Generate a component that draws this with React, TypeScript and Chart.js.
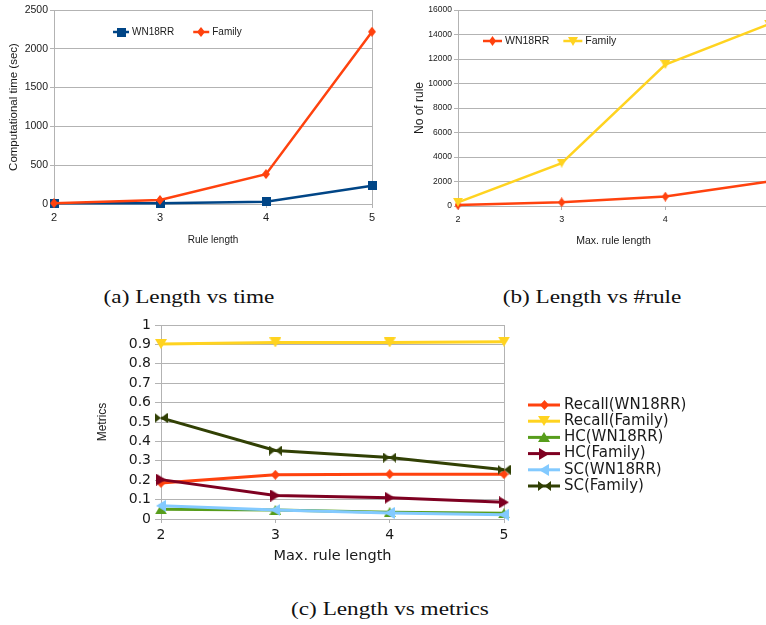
import React, { useEffect, useRef } from 'react';
import { Chart, registerables } from 'chart.js';
Chart.register(...registerables);

// ---------- data ----------
const lengthA = ['2', '3', '4', '5'];
const timeWN18RR = [9, 9, 30, 236];
const timeFamily = [10, 52, 385, 2220];

const lengthB = ['2', '3', '4', '5'];
const rulesWN18RR = [80, 300, 770, 2000];
const rulesFamily = [300, 3500, 11550, 14850];

const lengthC = ['2', '3', '4', '5'];
const recallWN18RR = [0.186, 0.228, 0.231, 0.231];
const recallFamily = [0.902, 0.91, 0.91, 0.914];
const hcWN18RR = [0.05, 0.046, 0.035, 0.029];
const hcFamily = [0.203, 0.121, 0.11, 0.086];
const scWN18RR = [0.068, 0.047, 0.031, 0.022];
const scFamily = [0.521, 0.353, 0.317, 0.254];

const captionA = '(a) Length vs time';
const captionB = '(b) Length vs #rule';
const captionC = '(c) Length vs metrics';

// ---------- styles ----------
const gridGray = '#b3b3b3';
const textColor = '#1a1a1a';
const SANS = "'Liberation Sans', sans-serif";
const DEJAVU = "'DejaVu Sans', sans-serif";

function marker(shape: string, color: string, w: number, h: number) {
  const c = document.createElement('canvas');
  c.width = w;
  c.height = h;
  const g = c.getContext('2d')!;
  g.fillStyle = color;
  g.beginPath();
  switch (shape) {
    case 'square':
      g.rect(0, 0, w, h);
      break;
    case 'diamond':
      g.moveTo(w / 2, 0); g.lineTo(w, h / 2); g.lineTo(w / 2, h); g.lineTo(0, h / 2); g.closePath();
      break;
    case 'down':
      g.moveTo(0, 0); g.lineTo(w, 0); g.lineTo(w / 2, h); g.closePath();
      break;
    case 'up':
      g.moveTo(w / 2, 0); g.lineTo(w, h); g.lineTo(0, h); g.closePath();
      break;
    case 'right':
      g.moveTo(0, 0); g.lineTo(w, h / 2); g.lineTo(0, h); g.closePath();
      break;
    case 'left':
      g.moveTo(w, 0); g.lineTo(0, h / 2); g.lineTo(w, h); g.closePath();
      break;
    case 'bowtie':
      g.moveTo(0, 0); g.lineTo(w / 2, h / 2); g.lineTo(0, h); g.closePath();
      g.moveTo(w, 0); g.lineTo(w / 2, h / 2); g.lineTo(w, h); g.closePath();
      break;
  }
  g.fill();
  return c;
}

const lineLegend = {
  id: 'lineLegend',
  afterDraw(chart: any, _args: any, opts: any) {
    if (!opts || !opts.display) return;
    const ctx = chart.ctx;
    ctx.save();
    ctx.font = opts.font;
    ctx.textBaseline = 'middle';
    ctx.textAlign = 'left';
    let x = opts.x;
    let y = opts.y;
    chart.data.datasets.forEach((ds: any) => {
      ctx.strokeStyle = ds.borderColor;
      ctx.lineWidth = ds.borderWidth;
      ctx.beginPath();
      ctx.moveTo(x, y);
      ctx.lineTo(x + opts.lineLength, y);
      ctx.stroke();
      const img = ds.pointStyle;
      ctx.drawImage(img, Math.round(x + opts.lineLength / 2 - img.width / 2), Math.round(y - img.height / 2));
      ctx.fillStyle = opts.color;
      const tx = x + opts.lineLength + opts.textGap;
      ctx.fillText(ds.label, tx, y);
      if (opts.direction === 'row') {
        x = tx + ctx.measureText(ds.label).width + opts.itemGap;
      } else {
        y += opts.rowHeight;
      }
    });
    ctx.restore();
  },
};

function ds(label: string, data: number[], color: string, img: HTMLCanvasElement, width: number, order: number) {
  return {
    label,
    data,
    borderColor: color,
    backgroundColor: color,
    borderWidth: width,
    pointStyle: img,
    pointRadius: 4,
    pointHoverRadius: 4,
    tension: 0,
    clip: false,
    order,
  };
}

function edgeGrid(ctx: any) {
  const n = ctx.chart.data.labels.length;
  return ctx.index === 0 || ctx.index === n - 1 ? gridGray : 'rgba(0,0,0,0)';
}

function configA() {
  return {
    type: 'line',
    data: {
      labels: lengthA,
      datasets: [
        ds('WN18RR', timeWN18RR, '#004586', marker('square', '#004586', 9, 9), 2.5, 2),
        ds('Family', timeFamily, '#ff420e', marker('diamond', '#ff420e', 8, 10), 2.5, 1),
      ],
    },
    plugins: [lineLegend],
    options: {
      responsive: false,
      animation: false,
      devicePixelRatio: 1,
      layout: { padding: { left: 0, right: 18, top: 10, bottom: 0 } },
      plugins: {
        legend: { display: false },
        tooltip: { enabled: false },
        lineLegend: { display: true, x: 113, y: 32, lineLength: 16, textGap: 3, itemGap: 19, direction: 'row', font: `10px ${SANS}`, color: textColor },
      },
      scales: {
        x: {
          offset: false,
          grid: { color: edgeGrid, tickColor: gridGray, tickLength: 4, drawTicks: true },
          border: { display: true, color: gridGray },
          ticks: { font: { family: SANS, size: 11 }, color: textColor, padding: 3, maxRotation: 0, autoSkip: false },
          title: { display: true, text: 'Rule length', font: { family: SANS, size: 10 }, color: textColor, padding: { top: 0, bottom: 4 } },
          afterFit: (s: any) => { s.height = 46; },
        },
        y: {
          min: 0,
          max: 2500,
          ticks: { stepSize: 500, autoSkip: false, font: { family: SANS, size: 10.5 }, color: textColor, padding: 2, callback: (v: any) => String(v) },
          grid: { color: gridGray, tickColor: gridGray, tickLength: 4 },
          border: { display: true, color: gridGray },
          title: { display: true, text: 'Computational time (sec)', font: { family: SANS, size: 11.5 }, color: textColor, padding: { top: 7, bottom: 0 } },
          afterFit: (s: any) => { s.width = 54; },
        },
      },
    },
  };
}

function configB() {
  return {
    type: 'line',
    data: {
      labels: lengthB,
      datasets: [
        ds('WN18RR', rulesWN18RR, '#ff420e', marker('diamond', '#ff420e', 7, 10), 2.5, 2),
        ds('Family', rulesFamily, '#ffd320', marker('down', '#ffd320', 10, 9), 2.5, 1),
      ],
    },
    plugins: [lineLegend],
    options: {
      responsive: false,
      animation: false,
      devicePixelRatio: 1,
      layout: { padding: { left: 0, right: 21, top: 10, bottom: 0 } },
      plugins: {
        legend: { display: false },
        tooltip: { enabled: false },
        lineLegend: { display: true, x: 93, y: 41, lineLength: 19, textGap: 3, itemGap: 14, direction: 'row', font: `10.5px ${SANS}`, color: textColor },
      },
      scales: {
        x: {
          offset: false,
          grid: { color: edgeGrid, tickColor: gridGray, tickLength: 4, drawTicks: true },
          border: { display: true, color: gridGray },
          ticks: { font: { family: SANS, size: 9 }, color: textColor, padding: 4, maxRotation: 0, autoSkip: false },
          title: { display: true, text: 'Max. rule length', font: { family: SANS, size: 10.5 }, color: textColor, padding: { top: 0, bottom: 3 } },
          afterFit: (s: any) => { s.height = 44; },
        },
        y: {
          min: 0,
          max: 16000,
          ticks: { stepSize: 2000, autoSkip: false, font: { family: SANS, size: 8.5 }, color: textColor, padding: 2, callback: (v: any) => String(v) },
          grid: { color: gridGray, tickColor: gridGray, tickLength: 4 },
          border: { display: true, color: gridGray },
          title: { display: true, text: 'No of rule', font: { family: SANS, size: 12 }, color: textColor, padding: { top: 22, bottom: 0 } },
          afterFit: (s: any) => { s.width = 68; },
        },
      },
    },
  };
}

function configC() {
  return {
    type: 'line',
    data: {
      labels: lengthC,
      datasets: [
        ds('Recall(WN18RR)', recallWN18RR, '#ff420e', marker('diamond', '#ff420e', 9, 10), 3, 6),
        ds('Recall(Family)', recallFamily, '#ffd320', marker('down', '#ffd320', 12, 10), 3, 5),
        ds('HC(WN18RR)', hcWN18RR, '#579d1c', marker('up', '#579d1c', 12, 10), 3, 4),
        ds('HC(Family)', hcFamily, '#7e0021', marker('right', '#7e0021', 10, 12), 3, 3),
        ds('SC(WN18RR)', scWN18RR, '#83caff', marker('left', '#83caff', 10, 12), 3, 2),
        ds('SC(Family)', scFamily, '#314004', marker('bowtie', '#314004', 13, 10), 3, 1),
      ],
    },
    plugins: [lineLegend],
    options: {
      responsive: false,
      animation: false,
      devicePixelRatio: 1,
      layout: { padding: { left: 0, right: 262, top: 15, bottom: 0 } },
      plugins: {
        legend: { display: false },
        tooltip: { enabled: false },
        lineLegend: { display: true, x: 438, y: 95, lineLength: 32, textGap: 4, rowHeight: 16.2, direction: 'column', font: `15px ${DEJAVU}`, color: textColor },
      },
      scales: {
        x: {
          offset: false,
          grid: { color: edgeGrid, tickColor: gridGray, tickLength: 4, drawTicks: true },
          border: { display: true, color: gridGray },
          ticks: { font: { family: DEJAVU, size: 14 }, color: textColor, padding: 4, maxRotation: 0, autoSkip: false },
          title: { display: true, text: 'Max. rule length', font: { family: DEJAVU, size: 14.5 }, color: textColor, padding: { top: 0, bottom: 5 } },
          afterFit: (s: any) => { s.height = 51; },
        },
        y: {
          min: 0,
          max: 1,
          ticks: { stepSize: 0.1, autoSkip: false, font: { family: DEJAVU, size: 14 }, color: textColor, padding: 4, callback: (v: any) => String(Math.round(v * 10) / 10) },
          grid: { color: gridGray, tickColor: gridGray, tickLength: 6 },
          border: { display: true, color: gridGray },
          title: { display: true, text: 'Metrics', font: { family: SANS, size: 12 }, color: textColor, padding: { top: 5, bottom: 0 } },
          afterFit: (s: any) => { s.width = 71; },
        },
      },
    },
  };
}

function ChartBox({ make, left, top, width, height }: any) {
  const ref = useRef<HTMLCanvasElement>(null);
  useEffect(() => {
    const chart = new Chart(ref.current as any, make() as any);
    return () => chart.destroy();
  }, []);
  return (
    <canvas
      ref={ref}
      width={width}
      height={height}
      style={{ position: 'absolute', left, top, width, height, display: 'block' }}
    />
  );
}

function Caption({ text, cx, cy }: any) {
  return (
    <div
      style={{
        position: 'absolute',
        left: cx - 200,
        top: cy - 12,
        width: 400,
        height: 24,
        lineHeight: '24px',
        textAlign: 'center',
        fontFamily: "'Liberation Serif', serif",
        fontSize: 19.5,
        color: '#111',
        transform: 'scaleX(1.19)',
        whiteSpace: 'nowrap',
      }}
    >
      {text}
    </div>
  );
}

export default function App() {
  return (
    <div
      style={{
        position: 'fixed',
        left: 0,
        top: 0,
        width: 766,
        height: 625,
        overflow: 'hidden',
        background: '#ffffff',
      }}
    >
      <ChartBox make={configA} left={0} top={0} width={390} height={250} />
      <ChartBox make={configB} left={390} top={0} width={400} height={250} />
      <ChartBox make={configC} left={90} top={310} width={676} height={260} />
      <Caption text={captionA} cx={189} cy={297} />
      <Caption text={captionB} cx={592} cy={297} />
      <Caption text={captionC} cx={390} cy={609} />
    </div>
  );
}
